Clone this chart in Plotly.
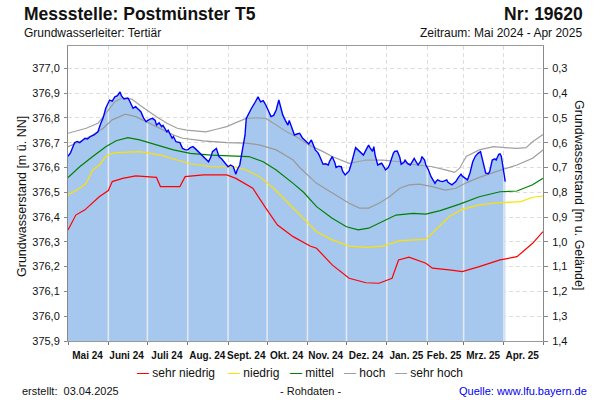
import numpy as np
import pandas as pd
import plotly.graph_objects as go

# ------------------------------------------------------------------ #
#  Daten: Grundwasserstand in m ü. NN
# ------------------------------------------------------------------ #
mess_datum = [
    "2024-05-01", "2024-05-03", "2024-05-06", "2024-05-08", "2024-05-10", "2024-05-14",
    "2024-05-16", "2024-05-18", "2024-05-21", "2024-05-24", "2024-05-26", "2024-05-28",
    "2024-05-30", "2024-06-02", "2024-06-04", "2024-06-06", "2024-06-08", "2024-06-10",
    "2024-06-11", "2024-06-13", "2024-06-16", "2024-06-17", "2024-06-20", "2024-06-22",
    "2024-06-24", "2024-06-26", "2024-06-28", "2024-06-30", "2024-07-03", "2024-07-05",
    "2024-07-07", "2024-07-08", "2024-07-10", "2024-07-12", "2024-07-13", "2024-07-16",
    "2024-07-17", "2024-07-20", "2024-07-21", "2024-07-23", "2024-07-26", "2024-07-28",
    "2024-07-30", "2024-08-01", "2024-08-03", "2024-08-05", "2024-08-07", "2024-08-09",
    "2024-08-11", "2024-08-13", "2024-08-15", "2024-08-17", "2024-08-19", "2024-08-20",
    "2024-08-23", "2024-08-25", "2024-08-27", "2024-08-29", "2024-09-01", "2024-09-03",
    "2024-09-05", "2024-09-07", "2024-09-08", "2024-09-10", "2024-09-12", "2024-09-14",
    "2024-09-15", "2024-09-17", "2024-09-19", "2024-09-22", "2024-09-24", "2024-09-26",
    "2024-09-28", "2024-09-30", "2024-10-02", "2024-10-04", "2024-10-06", "2024-10-08",
    "2024-10-10", "2024-10-11", "2024-10-13", "2024-10-15", "2024-10-17", "2024-10-18",
    "2024-10-20", "2024-10-22", "2024-10-24", "2024-10-26", "2024-10-28", "2024-10-30",
    "2024-10-31", "2024-11-02", "2024-11-04", "2024-11-07", "2024-11-09", "2024-11-10",
    "2024-11-13", "2024-11-15", "2024-11-17", "2024-11-18", "2024-11-20", "2024-11-22",
    "2024-11-23", "2024-11-25", "2024-11-27", "2024-11-28", "2024-11-30", "2024-12-02",
    "2024-12-03", "2024-12-05", "2024-12-06", "2024-12-08", "2024-12-10", "2024-12-11",
    "2024-12-14", "2024-12-16", "2024-12-18", "2024-12-19", "2024-12-21", "2024-12-22",
    "2024-12-23", "2024-12-25", "2024-12-27", "2024-12-28", "2024-12-30", "2024-12-31",
    "2025-01-02", "2025-01-03", "2025-01-06", "2025-01-07", "2025-01-09", "2025-01-11",
    "2025-01-12", "2025-01-14", "2025-01-15", "2025-01-17", "2025-01-19", "2025-01-21",
    "2025-01-22", "2025-01-25", "2025-01-27", "2025-01-28", "2025-01-30", "2025-01-31",
    "2025-02-02", "2025-02-04", "2025-02-07", "2025-02-08", "2025-02-09", "2025-02-11",
    "2025-02-13", "2025-02-16", "2025-02-17", "2025-02-20", "2025-02-21", "2025-02-23",
    "2025-02-25", "2025-02-27", "2025-02-28", "2025-03-02", "2025-03-04", "2025-03-06",
    "2025-03-08", "2025-03-10", "2025-03-12", "2025-03-14", "2025-03-16", "2025-03-17",
    "2025-03-18", "2025-03-20", "2025-03-21", "2025-03-23", "2025-03-25", "2025-03-26",
    "2025-03-28", "2025-03-29", "2025-03-30", "2025-03-31", "2025-04-01", "2025-04-02",
]
mess_wert = [
    376.645, 376.660, 376.700, 376.705, 376.700, 376.718,
    376.715, 376.724, 376.731, 376.744, 376.775, 376.800,
    376.839, 376.872, 376.868, 376.885, 376.890, 376.905,
    376.890, 376.876, 376.880, 376.872, 376.839, 376.845,
    376.835, 376.825, 376.800, 376.785, 376.795, 376.798,
    376.790, 376.771, 376.780, 376.765, 376.770, 376.744,
    376.750, 376.718, 376.725, 376.704, 376.700, 376.677,
    376.672, 376.671, 376.680, 376.684, 376.675, 376.664,
    376.655, 376.644, 376.630, 376.623, 376.645, 376.664,
    376.677, 376.644, 376.635, 376.623, 376.603, 376.610,
    376.603, 376.573, 376.590, 376.610, 376.664, 376.730,
    376.798, 376.820, 376.839, 376.865, 376.885, 376.865,
    376.870, 376.852, 376.830, 376.805, 376.810, 376.832,
    376.872, 376.850, 376.812, 376.790, 376.771, 376.790,
    376.760, 376.731, 376.735, 376.738, 376.720, 376.711,
    376.704, 376.695, 376.711, 376.671, 376.660, 376.650,
    376.613, 376.615, 376.610, 376.625, 376.644, 376.620,
    376.600, 376.605, 376.603, 376.585, 376.570, 376.580,
    376.586, 376.620, 376.644, 376.680, 376.670, 376.664,
    376.650, 376.671, 376.690, 376.680, 376.665, 376.684,
    376.650, 376.610, 376.615, 376.617, 376.600, 376.590,
    376.600, 376.610, 376.657, 376.665, 376.666, 376.640,
    376.613, 376.620, 376.630, 376.615, 376.610, 376.625,
    376.637, 376.610, 376.625, 376.644, 376.630, 376.610,
    376.590, 376.563, 376.536, 376.545, 376.550, 376.545,
    376.543, 376.550, 376.540, 376.530, 376.535, 376.543,
    376.560, 376.573, 376.565, 376.557, 376.550, 376.580,
    376.623, 376.645, 376.657, 376.664, 376.623, 376.595,
    376.577, 376.575, 376.583, 376.630, 376.635, 376.630,
    376.653, 376.655, 376.644, 376.610, 376.583, 376.543,
]

# Kennlinien (langjährige Statistik)
sehr_hoch_datum = [
    "2024-05-01", "2024-05-15", "2024-05-24", "2024-05-30", "2024-06-06", "2024-06-12",
    "2024-06-19", "2024-06-25", "2024-07-02", "2024-07-08", "2024-07-16", "2024-07-24",
    "2024-07-31", "2024-08-08", "2024-08-15", "2024-08-23", "2024-08-31", "2024-09-07",
    "2024-09-15", "2024-09-23", "2024-09-30", "2024-10-08", "2024-10-16", "2024-10-24",
    "2024-11-02", "2024-11-13", "2024-11-20", "2024-12-03", "2024-12-16", "2024-12-29",
    "2025-01-11", "2025-01-24", "2025-02-05", "2025-02-15", "2025-02-22", "2025-02-26",
    "2025-03-03", "2025-03-13", "2025-03-24", "2025-04-02", "2025-04-11", "2025-04-18",
    "2025-04-23", "2025-05-01",
]
sehr_hoch_wert = [
    376.738, 376.758, 376.778, 376.819, 376.865, 376.881,
    376.876, 376.852, 376.825, 376.805, 376.778, 376.758,
    376.751, 376.747, 376.744, 376.754, 376.765, 376.781,
    376.798, 376.800, 376.798, 376.771, 376.744, 376.722,
    376.691, 376.664, 376.644, 376.617, 376.630, 376.630,
    376.623, 376.610, 376.603, 376.590, 376.580, 376.597,
    376.644, 376.671, 376.684, 376.680, 376.677, 376.680,
    376.704, 376.733,
]

hoch_datum = [
    "2024-05-01", "2024-05-10", "2024-05-20", "2024-05-28", "2024-06-04", "2024-06-14",
    "2024-06-22", "2024-06-30", "2024-07-11", "2024-07-21", "2024-07-28", "2024-08-13",
    "2024-08-31", "2024-09-15", "2024-09-25", "2024-10-08", "2024-10-21", "2024-10-26",
    "2024-11-08", "2024-11-20", "2024-12-03", "2024-12-11", "2024-12-18", "2024-12-26",
    "2025-01-03", "2025-01-11", "2025-01-18", "2025-01-26", "2025-02-05", "2025-02-15",
    "2025-02-23", "2025-03-03", "2025-03-13", "2025-03-26", "2025-04-03", "2025-04-11",
    "2025-04-23", "2025-05-01",
]
hoch_wert = [
    376.684, 376.704, 376.731, 376.758, 376.792, 376.815,
    376.805, 376.785, 376.758, 376.731, 376.718, 376.707,
    376.700, 376.698, 376.691, 376.671, 376.630, 376.600,
    376.536, 376.496, 376.456, 376.436, 376.436, 376.456,
    376.482, 376.516, 376.530, 376.533, 376.523, 376.509,
    376.516, 376.538, 376.560, 376.583, 376.598, 376.610,
    376.637, 376.671,
]

mittel_datum = [
    "2024-05-01", "2024-05-10", "2024-05-20", "2024-05-30", "2024-06-07", "2024-06-16",
    "2024-06-25", "2024-07-08", "2024-07-21", "2024-08-03", "2024-08-19", "2024-09-07",
    "2024-09-17", "2024-09-28", "2024-10-08", "2024-10-21", "2024-10-29", "2024-11-08",
    "2024-11-20", "2024-12-01", "2024-12-10", "2024-12-18", "2024-12-29", "2025-01-08",
    "2025-01-21", "2025-01-31", "2025-02-11", "2025-02-26", "2025-03-13", "2025-03-29",
    "2025-04-11", "2025-04-23", "2025-05-01",
]
mittel_wert = [
    376.559, 376.603, 376.644, 376.684, 376.708, 376.720,
    376.711, 376.691, 376.671, 376.657, 376.650, 376.646,
    376.644, 376.623, 376.590, 376.536, 376.500, 376.442,
    376.395, 376.361, 376.348, 376.355, 376.381, 376.408,
    376.415, 376.412, 376.426, 376.452, 376.482, 376.502,
    376.505, 376.530, 376.556,
]

niedrig_datum = [
    "2024-05-01", "2024-05-06", "2024-05-10", "2024-05-15", "2024-05-18", "2024-05-20",
    "2024-05-25", "2024-05-30", "2024-06-04", "2024-06-08", "2024-06-25", "2024-07-11",
    "2024-07-24", "2024-08-03", "2024-08-19", "2024-09-06", "2024-09-15", "2024-09-25",
    "2024-10-06", "2024-10-21", "2024-10-26", "2024-11-03", "2024-11-08", "2024-11-20",
    "2024-12-03", "2024-12-16", "2024-12-29", "2025-01-11", "2025-01-31", "2025-02-05",
    "2025-02-18", "2025-02-28", "2025-03-13", "2025-03-29", "2025-04-14", "2025-04-23",
    "2025-05-01",
]
niedrig_wert = [
    376.489, 376.505, 376.516, 376.536, 376.570, 376.590,
    376.610, 376.644, 376.657, 376.660, 376.664, 376.650,
    376.630, 376.615, 376.603, 376.603, 376.590, 376.563,
    376.516, 376.436, 376.410, 376.368, 376.341, 376.308,
    376.283, 376.278, 376.283, 376.305, 376.310, 376.335,
    376.402, 376.431, 376.449, 376.458, 376.462, 376.480,
    376.485,
]

sehr_niedrig_datum = [
    "2024-05-01", "2024-05-07", "2024-05-14", "2024-05-20", "2024-05-25", "2024-06-01",
    "2024-06-04", "2024-06-12", "2024-06-22", "2024-07-08", "2024-07-11", "2024-07-26",
    "2024-07-30", "2024-08-13", "2024-08-31", "2024-09-07", "2024-09-20", "2024-09-30",
    "2024-10-09", "2024-10-21", "2024-11-03", "2024-11-08", "2024-11-20", "2024-12-03",
    "2024-12-16", "2024-12-26", "2025-01-05", "2025-01-10", "2025-01-18", "2025-01-31",
    "2025-02-05", "2025-02-18", "2025-02-28", "2025-03-13", "2025-03-29", "2025-04-11",
    "2025-04-23", "2025-05-01",
]
sehr_niedrig_wert = [
    376.348, 376.408, 376.429, 376.458, 376.482, 376.507,
    376.543, 376.556, 376.566, 376.560, 376.523, 376.523,
    376.563, 376.570, 376.570, 376.556, 376.516, 376.436,
    376.368, 376.321, 376.283, 376.274, 376.207, 376.153,
    376.135, 376.133, 376.153, 376.227, 376.238, 376.214,
    376.194, 376.187, 376.180, 376.200, 376.227, 376.240,
    376.294, 376.341,
]

monatsanfang = [
    "2024-05-01", "2024-06-01", "2024-07-01", "2024-08-01", "2024-09-01", "2024-10-01",
    "2024-11-01", "2024-12-01", "2025-01-01", "2025-02-01", "2025-03-01", "2025-04-01",
    "2025-05-01",
]
monatsmitte = [
    "2024-05-16", "2024-06-15", "2024-07-16", "2024-08-16", "2024-09-15", "2024-10-16",
    "2024-11-15", "2024-12-16", "2025-01-16", "2025-02-14", "2025-03-16", "2025-04-15",
]
monat_text = [
    "Mai 24", "Juni 24", "Juli 24", "Aug. 24", "Sept. 24", "Okt. 24",
    "Nov. 24", "Dez. 24", "Jan. 25", "Feb. 25", "Mrz. 25", "Apr. 25",
]

GELAENDE = 377.3  # Bezug für die rechte Achse (m u. Gelände)
Y_MIN, Y_MAX = 375.9, 377.09
FONT = "Liberation Sans, Arial, sans-serif"

fig = go.Figure()

# --- Messwerte als Fläche ---
fig.add_trace(go.Scatter(
    x=mess_datum, y=mess_wert, mode="lines",
    line=dict(width=0), fill="tozeroy", fillcolor="#A6C8EF",
    hoverinfo="skip",
))

# --- helle Monatslinien innerhalb der Fläche ---
t_mess = pd.to_datetime(mess_datum).astype("int64")
vx, vy = [], []
for d in monatsanfang[1:-1]:
    t = pd.Timestamp(d).value
    if t <= t_mess.max():
        vx += [d, d, None]
        vy += [Y_MIN, float(np.interp(t, t_mess, mess_wert)), None]
fig.add_trace(go.Scatter(
    x=vx, y=vy, mode="lines", line=dict(color="#E6EAF0", width=1.5),
    hoverinfo="skip",
))

# --- Kennlinien ---
kennlinien = [
    ("sehr hoch", sehr_hoch_datum, sehr_hoch_wert, "#A0A0A0"),
    ("hoch", hoch_datum, hoch_wert, "#999999"),
    ("mittel", mittel_datum, mittel_wert, "#008000"),
    ("niedrig", niedrig_datum, niedrig_wert, "#FFE000"),
    ("sehr niedrig", sehr_niedrig_datum, sehr_niedrig_wert, "#FF0000"),
]
for name, xs, ys, col in kennlinien:
    fig.add_trace(go.Scatter(x=xs, y=ys, mode="lines", name=name,
                             line=dict(color=col, width=1.2)))

# --- Messwerte als Linie ---
fig.add_trace(go.Scatter(
    x=mess_datum, y=mess_wert, mode="lines", name="Messwerte",
    line=dict(color="#0000FF", width=1.4),
))

# Dummy für rechte Achse
fig.add_trace(go.Scatter(x=[None], y=[None], yaxis="y2", showlegend=False))

fig.update_layout(
    width=600, height=400,
    margin=dict(l=68, r=57, t=46, b=59, autoexpand=False),
    paper_bgcolor="white", plot_bgcolor="white",
    separators=",.",
    showlegend=False,
    font=dict(family=FONT, size=11, color="#111111"),
    xaxis=dict(
        type="date", range=[monatsanfang[0], monatsanfang[-1]],
        tickmode="array", tickvals=monatsmitte, ticktext=monat_text,
        ticks="", showgrid=False, tickangle=0, automargin=False,
        ticklabelstandoff=5,
        tickfont=dict(size=10, weight="bold", color="#111111"),
        showline=True, linecolor="#999999", mirror=True,
        minor=dict(tickmode="array", tickvals=monatsanfang, ticks="outside",
                   ticklen=3, tickcolor="#777777", showgrid=True,
                   gridcolor="#DDDDDD", griddash="4px,3px", gridwidth=1),
    ),
    yaxis=dict(
        range=[Y_MIN, Y_MAX], tick0=Y_MIN, dtick=0.1, tickformat=".1f",
        ticks="outside", ticklen=3, tickcolor="#888888", automargin=False,
        showline=True, linecolor="#888888", zeroline=False,
        showgrid=True, gridcolor="#DDDDDD", griddash="4px,3px",
        ticklabelstandoff=2, tickfont=dict(size=11),
    ),
    yaxis2=dict(
        overlaying="y", side="right", automargin=False,
        range=[GELAENDE - Y_MIN, GELAENDE - Y_MAX], dtick=0.1, tick0=0.3,
        tickformat=".1f", ticks="outside", ticklen=4, tickcolor="#888888",
        showline=True, linecolor="#888888", showgrid=False, zeroline=False,
        ticklabelstandoff=2, tickfont=dict(size=11),
    ),
)


def px(x, y):
    """Pixel -> paper Koordinaten."""
    return (x - 68) / 475, (341 - y) / 295


annos = []


def text(x, y, s, size=11, anchor="left", color="#111111", angle=0):
    xp, yp = px(x, y)
    annos.append(dict(x=xp, y=yp, xref="paper", yref="paper", text=s,
                      showarrow=False, xanchor=anchor, yanchor="middle",
                      textangle=angle, font=dict(size=size, color=color, family=FONT)))


text(22, 14, "<b>Messstelle: Postmünster T5</b>", size=17.5)
text(22, 33, "Grundwasserleiter: Tertiär", size=12)
text(585, 14, "<b>Nr: 19620</b>", size=17.5, anchor="right")
text(584, 33, "Zeitraum: Mai 2024 - Apr 2025", size=12, anchor="right")
text(22, 197, "Grundwasserstand [m ü. NN]", size=12.5, anchor="center", angle=-90)
text(579, 195, "Grundwasserstand [m u. Gelände]", size=12.5, anchor="center", angle=90)

# Legende
legende = [(135, "sehr niedrig", "#FF0000"), (226, "niedrig", "#FFE000"),
           (288, "mittel", "#008000"), (342, "hoch", "#A0A0A0"),
           (393, "sehr hoch", "#A0A0A0")]
for lx, name, col in legende:
    text(lx, 373, f'<span style="color:{col}">—</span> {name}', size=12)

text(20, 391, "erstellt:&nbsp;&nbsp;03.04.2025", size=11)
text(310, 391, "- Rohdaten -", size=11, anchor="center")
text(589, 391, "Quelle: www.lfu.bayern.de", size=11, anchor="right", color="#0000EE")

fig.update_layout(annotations=annos)

fig.write_html("out.html", config={"displayModeBar": False},
               post_script="document.body.style.margin='0';")
